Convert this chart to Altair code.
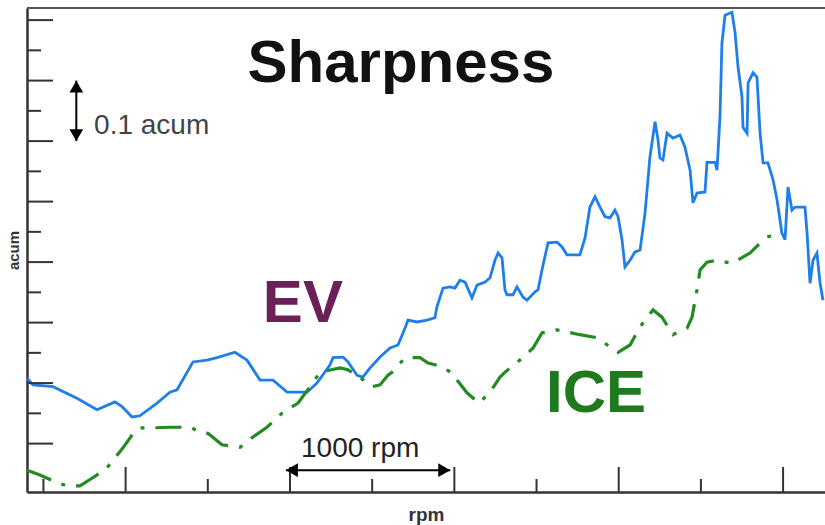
import altair as alt
import pandas as pd

# Sharpness (acum) versus engine speed (rpm)
ev_rpm = [400, 436, 558, 704, 826, 935, 978, 1039, 1087, 1191, 1270, 1313, 1410, 1495, 1556,
          1665, 1738, 1818, 1897, 1982, 2061, 2104, 2164, 2243, 2262, 2323, 2353, 2408, 2444,
          2487, 2548, 2609, 2657, 2700, 2718, 2773, 2834, 2882, 2894, 2931, 2974, 3004, 3034,
          3065, 3107, 3138, 3187, 3217, 3247, 3266, 3290, 3308, 3320, 3357, 3381, 3418, 3442,
          3491, 3509, 3533, 3570, 3625, 3655, 3685, 3764, 3795, 3825, 3856, 3886, 3917, 3947,
          3977, 3996, 4020, 4038, 4069, 4099, 4130, 4160, 4190, 4221, 4239, 4251, 4269, 4294,
          4330, 4373, 4403, 4434, 4452, 4476, 4525, 4537, 4586, 4598, 4616, 4628, 4647, 4689,
          4708, 4726, 4750, 4756, 4781, 4787, 4817, 4841, 4860, 4878, 4908, 4939, 4963, 4993,
          5012, 5030, 5054, 5073, 5133, 5146, 5164, 5182, 5206, 5225, 5243]
ev_acum = [1.108, 1.097, 1.094, 1.075, 1.056, 1.069, 1.061, 1.044, 1.046, 1.067, 1.085, 1.089,
           1.135, 1.138, 1.142, 1.151, 1.138, 1.105, 1.105, 1.085, 1.085, 1.085, 1.100, 1.130,
           1.142, 1.143, 1.135, 1.113, 1.110, 1.125, 1.143, 1.158, 1.163, 1.191, 1.204, 1.201,
           1.204, 1.208, 1.226, 1.257, 1.259, 1.257, 1.270, 1.267, 1.241, 1.262, 1.267, 1.274,
           1.303, 1.315, 1.307, 1.254, 1.246, 1.246, 1.259, 1.242, 1.237, 1.251, 1.254, 1.287,
           1.332, 1.333, 1.325, 1.312, 1.312, 1.340, 1.391, 1.408, 1.391, 1.375, 1.373, 1.386,
           1.375, 1.337, 1.292, 1.303, 1.317, 1.320, 1.381, 1.474, 1.532, 1.502, 1.472, 1.469,
           1.513, 1.505, 1.510, 1.490, 1.452, 1.398, 1.414, 1.416, 1.465, 1.465, 1.452, 1.540,
           1.662, 1.708, 1.713, 1.679, 1.622, 1.573, 1.523, 1.513, 1.596, 1.613, 1.606, 1.513,
           1.464, 1.464, 1.436, 1.403, 1.348, 1.337, 1.424, 1.386, 1.391, 1.391, 1.348, 1.265,
           1.303, 1.315, 1.265, 1.237]

ice_rpm = [400, 479, 570, 643, 722, 814, 887, 984, 1039, 1087, 1160, 1270, 1392, 1453, 1501,
           1586, 1696, 1775, 1860, 1958, 2049, 2122, 2183, 2304, 2353, 2408, 2499, 2548, 2596,
           2621, 2700, 2791, 2840, 2913, 2986, 3016, 3077, 3150, 3217, 3278, 3308, 3399, 3479,
           3533, 3625, 3764, 3868, 3947, 3996, 4069, 4130, 4209, 4263, 4330, 4416, 4446, 4476,
           4495, 4537, 4598, 4689, 4799, 4890, 4993]
ice_acum = [0.956, 0.948, 0.937, 0.930, 0.930, 0.946, 0.960, 0.993, 1.014, 1.026, 1.026, 1.027,
            1.027, 1.019, 1.017, 0.998, 0.994, 1.011, 1.027, 1.052, 1.067, 1.094, 1.118, 1.125,
            1.122, 1.113, 1.094, 1.097, 1.113, 1.118, 1.142, 1.142, 1.133, 1.128, 1.117, 1.105,
            1.084, 1.067, 1.085, 1.110, 1.118, 1.138, 1.158, 1.183, 1.188, 1.180, 1.175, 1.160,
            1.151, 1.163, 1.193, 1.221, 1.209, 1.180, 1.191, 1.209, 1.254, 1.287, 1.300, 1.303,
            1.298, 1.315, 1.340, 1.350]

# Axis tick positions (no labels are shown)
x_major = [1000, 2000, 3000, 4000, 5000]
x_minor = [500, 1500, 2500, 3500, 4500]
y_major = [1.0, 1.1, 1.2, 1.3, 1.4, 1.5, 1.6, 1.7]
y_minor = [1.05, 1.15, 1.25, 1.35, 1.45, 1.55, 1.65]

W, H = 798, 484
FONT = "Liberation Sans"
INK = "#333333"

ev = pd.DataFrame({"rpm": ev_rpm, "acum": ev_acum})
ice = pd.DataFrame({"rpm": ice_rpm, "acum": ice_acum})

axis_style = dict(ticks=False, labels=False, grid=False, domainColor=INK, domainWidth=2.5,
                  titleFont=FONT, titleFontWeight="bold", titleColor=INK)

x_enc = alt.X("rpm:Q", title="rpm",
              scale=alt.Scale(domain=[400, 5255], nice=False, zero=False),
              axis=alt.Axis(titleFontSize=19, titlePadding=13, **axis_style))
y_enc = alt.Y("acum:Q", title="acum",
              scale=alt.Scale(domain=[0.92, 1.72], nice=False, zero=False),
              axis=alt.Axis(titleFontSize=15, titlePadding=6, **axis_style))

ev_line = alt.Chart(ev).mark_line(color="#1f7fe8", strokeWidth=2.8).encode(x=x_enc, y=y_enc)
ice_line = alt.Chart(ice).mark_line(
    color="#248a24", strokeWidth=3.2, strokeDash=[26, 11, 4, 11], strokeCap="butt"
).encode(x="rpm:Q", y="acum:Q")

# Inward-pointing ticks
def yticks(vals, length):
    return alt.Chart(pd.DataFrame({"acum": vals})).mark_rule(color=INK, strokeWidth=2).encode(
        y="acum:Q", x=alt.value(0), x2=alt.value(length))

def xticks(vals, length):
    return alt.Chart(pd.DataFrame({"rpm": vals})).mark_rule(color=INK, strokeWidth=2).encode(
        x="rpm:Q", y=alt.value(H), y2=alt.value(H - length))

top_border = alt.Chart(pd.DataFrame({"rpm": [400]})).mark_rule(color="#555555", strokeWidth=2).encode(
    x=alt.value(0), x2=alt.value(W), y=alt.value(0))

def label(txt, x, y, size, color, weight="normal", align="left"):
    return alt.Chart(pd.DataFrame({"rpm": [x], "acum": [y]})).mark_text(
        text=txt, font=FONT, fontSize=size, fontWeight=weight, color=color,
        align=align, baseline="alphabetic").encode(x="rpm:Q", y="acum:Q")

title = label("Sharpness", 2675, 1.598, 60, "#111111", "bold", "center")
ev_lab = label("EV", 1835, 1.201, 60, "#6b2157", "bold")
ice_lab = label("ICE", 3558, 1.052, 60, "#1f7a1f", "bold")
acum_lab = label("0.1 acum", 808, 1.512, 28, "#444444")
rpm_lab = label("1000 rpm", 2067, 0.978, 28, "#222222")

# Scale bars: 0.1 acum (vertical) and 1000 rpm (horizontal)
v_bar = alt.Chart(pd.DataFrame({"rpm": [700, 700], "acum": [1.50, 1.60]})).mark_line(
    color="black", strokeWidth=2).encode(x="rpm:Q", y="acum:Q")
h_bar = alt.Chart(pd.DataFrame({"rpm": [1975, 2975], "acum": [0.956, 0.956]})).mark_line(
    color="black", strokeWidth=2).encode(x="rpm:Q", y="acum:Q")

def head(x, y, shape, dx=0, dy=0):
    return alt.Chart(pd.DataFrame({"rpm": [x], "acum": [y]})).mark_point(
        shape=shape, filled=True, size=190, color="black", opacity=1,
        xOffset=dx, yOffset=dy).encode(x="rpm:Q", y="acum:Q")

heads = [
    head(700, 1.60, "triangle-up", dy=6),
    head(700, 1.50, "triangle-down", dy=-6),
    head(1975, 0.956, "triangle-left", dx=6),
    head(2975, 0.956, "triangle-right", dx=-6),
]

chart = alt.layer(
    ev_line, ice_line,
    yticks(y_major, 26), yticks(y_minor, 14),
    xticks(x_major, 25), xticks(x_minor, 13),
    top_border, title, ev_lab, ice_lab, acum_lab, rpm_lab, v_bar, h_bar, *heads,
).properties(
    width=W, height=H,
    autosize=alt.AutoSizeParams(type="none"),
    padding={"left": 27, "top": 8, "right": 0, "bottom": 33},
    background="white",
).configure_view(stroke=None)

chart.save("out.html", embed_options={"renderer": "svg", "actions": False})
